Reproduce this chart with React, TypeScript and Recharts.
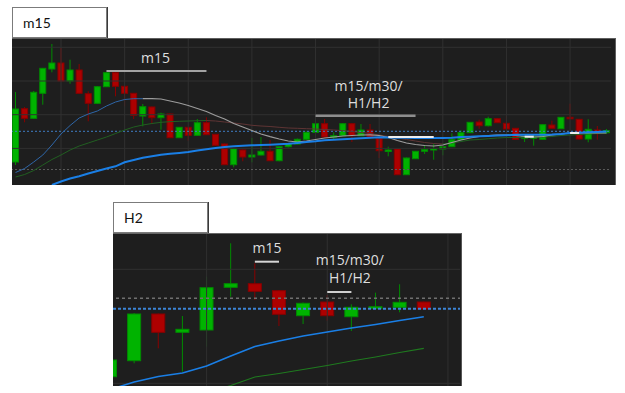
import React from "react";
import { ComposedChart, Bar, Line, XAxis, YAxis, ReferenceLine } from "recharts";

// Price units are arbitrary (no axis is shown).

// ---- m15 panel: 66 candles ----
const topOpen = [
  23, 76.3, 66.7, 91.7, 116, 122, 104, 115, 91.3, 81.7,
  98.3, 112.3, 98.7, 91.7, 69, 78, 67.3, 71, 47.3, 57.7,
  49.7, 62.3, 50.7, 41, 20.3, 35, 28, 30, 33.7, 24.3,
  38.3, 41, 45.7, 52.7, 61.3, 48, 49.3, 61.3, 49.3, 55,
  46.3, 33.7, 36, 10.3, 26.3, 33.7, 35.5, 36, 38.3, 45.3,
  52.3, 63, 59.3, 66.3, 61.7, 56.7, 47, 47.2, 45.7, 60,
  56.3, 67.7, 65.7, 46, 55, 52.3,
];
const topHigh = [
  93, 78, 94, 117, 141, 137, 125.3, 121, 93.7, 99,
  113, 113, 99, 92, 81, 78.5, 72.3, 71.5, 58, 58,
  66, 67.7, 51, 41.5, 37, 35.5, 47, 48, 45, 39,
  42, 46.5, 53.5, 66, 66, 52.7, 62, 62, 61, 61,
  47, 38.3, 36.5, 27.5, 34, 39.7, 41, 39, 51.7, 54.7,
  63, 65.3, 68.3, 66.7, 69.3, 57, 49.5, 51, 60.7, 64.3,
  68, 81.3, 66, 65.7, 59, 56,
];
const topLow = [
  20, 62.7, 66, 80.3, 112.7, 103, 101.3, 91, 63.7, 81,
  98, 88.7, 78.7, 66, 58.7, 61, 55.3, 47, 47, 44.3,
  49.3, 50, 39, 20, 17.7, 23.7, 22.7, 29.5, 24, 23.7,
  37.5, 40.5, 45, 52, 47.5, 45.7, 49, 43, 49, 47.5,
  27, 28.7, 10, 10, 26, 31, 25.3, 29.7, 38, 45,
  52, 56.3, 58.5, 62, 55.5, 45.3, 43, 39.3, 45.3, 56.3,
  56, 66, 45.5, 42.7, 45.3, 51,
];
const topClose = [
  76, 66.7, 92.7, 116.7, 122, 104, 115, 91.7, 81.7, 98.3,
  112.3, 98.7, 91.7, 69.7, 78.3, 67.3, 71, 47.3, 57.7, 49.7,
  62.3, 50.3, 39.7, 20.3, 36.3, 28, 30, 33.7, 24.3, 38.3,
  41.3, 45.7, 52.7, 61.3, 48, 49.3, 61.3, 49.3, 55, 48,
  34.3, 35, 10.3, 27, 33.7, 35.3, 36.5, 38.3, 45.3, 52.3,
  62.7, 59.3, 66.3, 62.3, 56, 45.7, 48.3, 48.2, 60.3, 56.7,
  67.7, 66.3, 46, 55.7, 53, 54.3,
];
const topFastMa = [
  12.5, 16.5, 23, 30, 40, 51, 59.5, 67, 71, 74,
  79, 83, 85.5, 86.3, 86.3, 86.3, 86, 84, 82, 79.5,
  76.5, 73.5, 69.5, 66, 61.5, 58, 54.5, 51, 48.3, 46,
  44, 43, 44, 45.5, 47, 48, 49, 49.5, 50, 50.2,
  49.5, 47.5, 44.5, 42, 40.5, 39.5, 39, 40, 42.5, 45,
  47, 48.5, 49.5, 50, 50, 49.5, 48.5, 48, 48.5, 50,
  51, 52, 52, 52, 52, 52,
];
const topMidMa = [
  8, 10.5, 14.5, 20, 25.5, 30, 35, 39, 42, 45,
  48, 51.5, 55, 58, 60, 61.5, 62.7, 63.3, 63.7, 64,
  64.3, 64.5, 64, 63, 62, 61, 59.7, 59, 58.5, 57.7,
  57, 56.7, 56.3, 56, 55.5, 55, 54.3, 53.5, 52.5, 51.5,
  50, 48.5, 47, 45.5, 44, 42.5, 41.5, 41, 42, 43.5,
  45, 45.5, 46.3, 47, 47.5, 47.5, 47.5, 47.7, 48, 48.5,
  49.5, 50, 50.5, 51, 51.5, 52,
];
const topSlowMa = [
  null, null, null, null, 0, 3.5, 6.5, 8.8, 11.5, 14,
  16.5, 18.7, 22.7, 25, 27.2, 28.7, 30.2, 31.2, 32, 33,
  34.5, 35.8, 37, 38, 38.7, 39.3, 39.7, 40, 40.3, 40.7,
  41.2, 42, 43, 43.7, 44.7, 45.3, 45.7, 46.2, 46.7, 47.2,
  47.7, 47.5, 47.3, 47.2, 47, 47, 47, 47, 47.2, 48,
  48.3, 48.7, 49, 49.5, 49.8, 50.2, 50.2, 50.3, 50.3, 50.5,
  51, 52, 52.3, 52.7, 53, 53.5,
];
const topCats = topOpen.map((_, i) => `m15-${i}`);
const topGridLevels = [137.7, 104, 70.3, 36.6];
const topGridEvery = 7;
const topGridFirst = 5;
const topBlueLevel = 53.7;
const topGrayLevel = 15.5;
const fastGrayFrom = 14;
const midBrownFrom = 21;
const midBrownTo = 47;
const topWhiteSegments = [
  { from: 41, to: 46, level: 48 },
  { from: 56, to: 57, level: 48.3 },
  { from: 61, to: 62, level: 52 },
];

// ---- H2 panel: 15 slots, the last one empty ----
const botOpen = [9.3, 25.3, 72, 53.7, 56, 98.7, 102.3, 95.3, 70.3, 84, 69.3, 77.7, 78.7, 84, null];
const botHigh = [28, 73, 72.5, 70, 109.3, 142.7, 122.7, 96, 83.5, 91, 81.7, 93.3, 101.7, 84.5, null];
const botLow = [8, 22.7, 37.7, 14.3, 39.3, 89.3, 86, 60, 62, 65.3, 55, 77.5, 73.7, 76.5, null];
const botClose = [26, 72, 53.7, 56.7, 98.3, 102.3, 94.7, 71.7, 82.7, 70.3, 78.7, 79.3, 83.7, 77, null];
const botBlueMa = [-3.5, 4, 9.5, 13, 20, 30, 39.5, 45, 50, 54, 58, 61.5, 65.5, 69.3, null];
const botGreenMa = [null, null, null, null, -7, 0.5, 9, 12.5, 16.5, 20.5, 25, 29, 33.5, 37.7, null];
const botCats = botOpen.map((_, i) => `H2-${i}`);
const botGridLevels = [116.7, 2.7];
const botGridCats = [4, 9, 14];
const botGrayLevel = 87.7;
const botBlueLevel = 77.3;

const GREEN = "#00b300";
const GREEN_EDGE = "#008c00";
const RED = "#ad0000";
const RED_EDGE = "#880000";
const PANEL_BG = "#1e1e1e";
const GRID = "#303030";
const NOTE_TEXT = "#dedede";

const topRows = topCats.map((cat, i) => ({
  cat,
  open: topOpen[i],
  high: topHigh[i],
  low: topLow[i],
  close: topClose[i],
  fastBlue: i <= fastGrayFrom ? topFastMa[i] : null,
  fastGray: i >= fastGrayFrom ? topFastMa[i] : null,
  midGreen: i <= midBrownFrom || i >= midBrownTo ? topMidMa[i] : null,
  midBrown: i >= midBrownFrom && i <= midBrownTo ? topMidMa[i] : null,
  slow: topSlowMa[i],
}));

const botRows = botCats.map((cat, i) => ({
  cat,
  open: botOpen[i],
  high: botHigh[i],
  low: botLow[i],
  close: botClose[i],
  blue: botBlueMa[i],
  green: botGreenMa[i],
}));

const candleRange = (d: any) => (d.high == null ? null : [d.low, d.high]);

const CandleShape = (props: any) => {
  const { x, y, width, height } = props;
  const d = props.payload ?? props;
  if (d.high == null || !height) return null;
  const top = Math.min(y, y + height);
  const h = Math.abs(height);
  const toY = (v: number) => top + ((d.high - v) / (d.high - d.low)) * h;
  const up = d.close >= d.open;
  const bodyTop = toY(Math.max(d.open, d.close));
  const bodyBottom = toY(Math.min(d.open, d.close));
  const cx = x + width / 2;
  return (
    <g>
      <line x1={cx} x2={cx} y1={top} y2={top + h} stroke={up ? GREEN_EDGE : RED_EDGE} strokeWidth={1} />
      <rect
        x={x + 0.5}
        y={bodyTop}
        width={width - 1}
        height={Math.max(bodyBottom - bodyTop, 1.5)}
        fill={up ? GREEN : RED}
        stroke={up ? GREEN_EDGE : RED_EDGE}
        strokeWidth={1}
      />
    </g>
  );
};

const noteLabel = (lines: string[], dx: number, lift: number, gap: number) => (p: any) => {
  const vb = p.viewBox ?? p;
  const cx = vb.x + (vb.width || 0) / 2 + dx;
  const base = vb.y - lift;
  return (
    <text textAnchor="middle" fill={NOTE_TEXT} fontFamily="'Open Sans', sans-serif" fontSize={14}>
      {lines.map((ln, k) => (
        <tspan key={k} x={cx} y={base - (lines.length - 1 - k) * gap}>
          {ln}
        </tspan>
      ))}
    </text>
  );
};

const TagBox = ({ left, top, text }: { left: number; top: number; text: string }) => (
  <div
    style={{
      position: "absolute",
      left,
      top,
      width: 95,
      height: 31,
      boxSizing: "border-box",
      background: "#fff",
      border: "1px solid #7b7b7b",
      boxShadow: "1px 0 0 #3a3a3a",
      fontFamily: "Lato, sans-serif",
      fontSize: 14,
      lineHeight: "29px",
      paddingLeft: 10,
      color: "#111",
      zIndex: 2,
    }}
  >
    {text}
  </div>
);

export default function App() {
  return (
    <div
      style={{
        position: "absolute",
        left: 0,
        top: 0,
        width: 625,
        height: 393,
        background: "#fff",
        overflow: "hidden",
      }}
    >
      <TagBox left={12} top={7} text="m15" />
      <div
        style={{
          position: "absolute",
          left: 12,
          top: 38,
          width: 604,
          height: 147,
          boxSizing: "border-box",
          background: PANEL_BG,
          borderTop: "1px solid #5e5e5e",
          borderRight: "1px solid #5e5e5e",
          overflow: "hidden",
        }}
      >
        <div style={{ position: "absolute", left: -1, top: -1 }}>
          <ComposedChart width={600} height={147} data={topRows} margin={{ top: 0, right: 0, bottom: 0, left: 0 }}>
            <XAxis dataKey="cat" hide />
            <YAxis type="number" domain={[0, 147]} hide allowDataOverflow />
            {topGridLevels.map((lv) => (
              <ReferenceLine key={`h${lv}`} y={lv} stroke={GRID} strokeWidth={1} />
            ))}
            {topCats
              .filter((_, i) => i >= topGridFirst && (i - topGridFirst) % topGridEvery === 0)
              .map((c) => (
                <ReferenceLine key={c} x={c} stroke={GRID} strokeWidth={1} />
              ))}
            <ReferenceLine y={topGrayLevel} stroke="#5a5a5a" strokeDasharray="2 2" strokeWidth={1} />
            <ReferenceLine y={topBlueLevel} stroke="#3f7cc4" strokeDasharray="2 2" strokeWidth={1} />
            <Bar dataKey={candleRange} barSize={7} shape={CandleShape} isAnimationActive={false} />
            <Line dataKey="midGreen" stroke="#215f21" strokeWidth={1} dot={false} isAnimationActive={false} />
            <Line dataKey="midBrown" stroke="#5e3434" strokeWidth={1} dot={false} isAnimationActive={false} />
            <Line dataKey="fastBlue" stroke="#2e66a8" strokeWidth={1} dot={false} isAnimationActive={false} />
            <Line dataKey="fastGray" stroke="#9c9c9c" strokeWidth={1.2} dot={false} isAnimationActive={false} />
            <Line dataKey="slow" stroke="#1a7fe6" strokeWidth={2} dot={false} isAnimationActive={false} />
            {topWhiteSegments.map((s) => (
              <ReferenceLine
                key={`w${s.from}`}
                segment={[
                  { x: topCats[s.from], y: s.level },
                  { x: topCats[s.to], y: s.level },
                ]}
                stroke="#ececec"
                strokeWidth={2}
              />
            ))}
            <ReferenceLine
              segment={[
                { x: topCats[10], y: 114 },
                { x: topCats[21], y: 114 },
              ]}
              stroke="#a3a3a3"
              strokeWidth={2}
              label={noteLabel(["m15"], -1, 8, 18)}
            />
            <ReferenceLine
              segment={[
                { x: topCats[33], y: 69.3 },
                { x: topCats[44], y: 69.3 },
              ]}
              stroke="#8e8e8e"
              strokeWidth={2.5}
              label={noteLabel(["m15/m30/", "H1/H2"], 3, 7.5, 17.6)}
            />
          </ComposedChart>
        </div>
      </div>

      <TagBox left={113} top={202} text="H2" />
      <div
        style={{
          position: "absolute",
          left: 113,
          top: 233,
          width: 349,
          height: 153,
          boxSizing: "border-box",
          background: PANEL_BG,
          borderTop: "1px solid #666",
          borderRight: "1px solid #555",
          overflow: "hidden",
        }}
      >
        <div style={{ position: "absolute", left: -15, top: -1 }}>
          <ComposedChart width={362} height={153} data={botRows} margin={{ top: 0, right: 0, bottom: 0, left: 0 }}>
            <XAxis dataKey="cat" hide />
            <YAxis type="number" domain={[0, 153]} hide allowDataOverflow />
            {botGridLevels.map((lv) => (
              <ReferenceLine key={`h${lv}`} y={lv} stroke={GRID} strokeWidth={1} />
            ))}
            {botGridCats.map((i) => (
              <ReferenceLine key={`v${i}`} x={botCats[i]} stroke={GRID} strokeWidth={1} />
            ))}
            <ReferenceLine y={botGrayLevel} stroke="#707070" strokeDasharray="3 3" strokeWidth={1.5} />
            <ReferenceLine y={botBlueLevel} stroke="#3d85d6" strokeDasharray="3 2" strokeWidth={2} />
            <Bar dataKey={candleRange} barSize={14} shape={CandleShape} isAnimationActive={false} />
            <Line dataKey="green" stroke="#1f7a1f" strokeWidth={1.2} dot={false} isAnimationActive={false} />
            <Line dataKey="blue" stroke="#1a7fe6" strokeWidth={1.6} dot={false} isAnimationActive={false} />
            <ReferenceLine
              segment={[
                { x: botCats[6], y: 124.3 },
                { x: botCats[7], y: 124.3 },
              ]}
              stroke="#d6d6d6"
              strokeWidth={2}
              label={noteLabel(["m15"], 0, 8.4, 18)}
            />
            <ReferenceLine
              segment={[
                { x: botCats[9], y: 94 },
                { x: botCats[10], y: 94 },
              ]}
              stroke="#cfcfcf"
              strokeWidth={2}
              label={noteLabel(["m15/m30/", "H1/H2"], 10.5, 8.7, 18)}
            />
          </ComposedChart>
        </div>
      </div>
    </div>
  );
}
